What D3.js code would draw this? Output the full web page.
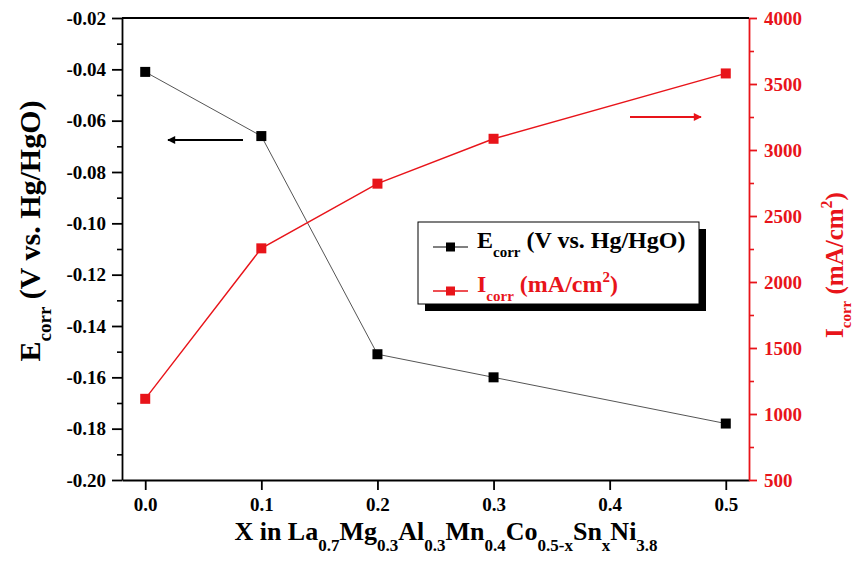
<!DOCTYPE html>
<html>
  <head>
    <title>Ecorr / Icorr</title>
    <script src="https://d3js.org/d3.v7.min.js"></script>
    <style>
      body { margin: 0; background: white; }
      text { font-family: "Liberation Serif", "Times New Roman", serif; font-weight: bold; }
    </style>
  </head>
  <body>
    <script>
      // values
      const xVals = [0.0, 0.1, 0.2, 0.3, 0.5];
      const eCorr = [-0.041, -0.066, -0.151, -0.160, -0.178];
      const iCorr = [1115, 2255, 2745, 3085, 3580];

      const xTicks = [0.0, 0.1, 0.2, 0.3, 0.4, 0.5];
      const eTicks = [-0.20, -0.18, -0.16, -0.14, -0.12, -0.10, -0.08, -0.06, -0.04, -0.02];
      const iTicks = [500, 1000, 1500, 2000, 2500, 3000, 3500, 4000];

      const width = 856, height = 564;
      const plotL = 122, plotR = 749, plotT = 18, plotB = 480;
      const red = "#e8141a";

      const svg = d3.select("body").append("svg")
        .attr("width", width).attr("height", height)
        .style("background", "white");

      const x = d3.scaleLinear().domain([-0.02, 0.52]).range([plotL, plotR]);
      const yE = d3.scaleLinear().domain([-0.20, -0.02]).range([plotB, plotT]);
      const yI = d3.scaleLinear().domain([500, 4000]).range([plotB, plotT]);

      // minor ticks first
      const eMinor = d3.range(-0.19, -0.02, 0.02);
      svg.append("g").attr("transform", `translate(${plotL},0)`)
        .call(d3.axisLeft(yE).tickValues(eMinor).tickSize(5).tickFormat(""))
        .call(g => g.select(".domain").remove())
        .selectAll("line").attr("stroke", "#000").attr("stroke-width", 1.6);

      const iMinor = d3.range(750, 4000, 500);
      svg.append("g").attr("transform", `translate(${plotR},0)`)
        .call(d3.axisRight(yI).tickValues(iMinor).tickSize(5).tickFormat(""))
        .call(g => g.select(".domain").remove())
        .selectAll("line").attr("stroke", red).attr("stroke-width", 1.6);

      // main axes
      const gx = svg.append("g").attr("transform", `translate(0,${plotB})`)
        .call(d3.axisBottom(x).tickValues(xTicks).tickSize(10).tickSizeOuter(0).tickPadding(4)
          .tickFormat(d3.format(".1f")));
      gx.selectAll("text").style("font-size", "19px").attr("fill", "#000").attr("dy", "0.9em");

      const gl = svg.append("g").attr("transform", `translate(${plotL},0)`)
        .call(d3.axisLeft(yE).tickValues(eTicks).tickSize(10).tickSizeOuter(0).tickPadding(6)
          .tickFormat(d => d3.format(".2f")(d).replace("−", "-")));
      gl.selectAll("text").style("font-size", "19px").attr("fill", "#000");

      const gr = svg.append("g").attr("transform", `translate(${plotR},0)`)
        .call(d3.axisRight(yI).tickValues(iTicks).tickSize(8).tickSizeOuter(0).tickPadding(7)
          .tickFormat(d3.format("d")));
      gr.selectAll("text").style("font-size", "19px").attr("fill", red);
      gr.selectAll("line").attr("stroke", red);
      gr.select(".domain").attr("stroke", red);

      [gx, gl].forEach(g => g.selectAll("line, .domain").attr("stroke", "#000"));
      [gx, gl, gr].forEach(g => g.selectAll("line, .domain").attr("stroke-width", 1.8));

      // top frame line
      svg.append("line").attr("x1", plotL).attr("x2", plotR).attr("y1", plotT).attr("y2", plotT)
        .attr("stroke", "#000").attr("stroke-width", 1.8);

      // series
      const ePts = xVals.map((v, i) => [x(v), yE(eCorr[i])]);
      const iPts = xVals.map((v, i) => [x(v), yI(iCorr[i])]);

      svg.append("path").attr("d", d3.line()(ePts))
        .attr("fill", "none").attr("stroke", "#555").attr("stroke-width", 1);
      svg.append("path").attr("d", d3.line()(iPts))
        .attr("fill", "none").attr("stroke", red).attr("stroke-width", 1.4);

      svg.selectAll("rect.e").data(ePts).enter().append("rect").attr("class", "e")
        .attr("x", d => d[0] - 5).attr("y", d => d[1] - 5)
        .attr("width", 10).attr("height", 10).attr("fill", "#000");
      svg.selectAll("rect.i").data(iPts).enter().append("rect").attr("class", "i")
        .attr("x", d => d[0] - 5).attr("y", d => d[1] - 5)
        .attr("width", 10).attr("height", 10).attr("fill", red);

      // arrows
      const defs = svg.append("defs");
      [["arrK", "#000"], ["arrR", red]].forEach(([id, c]) => {
        defs.append("marker").attr("id", id).attr("viewBox", "0 0 10 10")
          .attr("refX", 9).attr("refY", 5).attr("markerWidth", 12).attr("markerHeight", 8)
          .attr("markerUnits", "userSpaceOnUse").attr("orient", "auto")
          .append("path").attr("d", "M0,0 L10,5 L0,10 Z").attr("fill", c);
      });
      svg.append("line").attr("x1", 243).attr("x2", 168).attr("y1", 140).attr("y2", 140)
        .attr("stroke", "#000").attr("stroke-width", 1.8).attr("marker-end", "url(#arrK)");
      svg.append("line").attr("x1", 630).attr("x2", 701).attr("y1", 117).attr("y2", 117)
        .attr("stroke", red).attr("stroke-width", 1.8).attr("marker-end", "url(#arrR)");

      // legend
      const lg = svg.append("g");
      lg.append("rect").attr("x", 425).attr("y", 229).attr("width", 281).attr("height", 82).attr("fill", "#000");
      lg.append("rect").attr("x", 418).attr("y", 222).attr("width", 281).attr("height", 82)
        .attr("fill", "#fff").attr("stroke", "#000").attr("stroke-width", 1);
      const rows = [
        { y: 247, color: "#000", main: "E", sub: "corr", rest: " (V vs. Hg/HgO)", sup: "" },
        { y: 291, color: red, main: "I", sub: "corr", rest: " (mA/cm", sup: "2" }
      ];
      rows.forEach(r => {
        lg.append("line").attr("x1", 433).attr("x2", 468).attr("y1", r.y).attr("y2", r.y)
          .attr("stroke", r.color).attr("stroke-width", r.color === "#000" ? 1 : 1.4);
        lg.append("rect").attr("x", 446).attr("y", r.y - 4.5).attr("width", 9).attr("height", 9).attr("fill", r.color);
        const t = lg.append("text").attr("x", 477).attr("y", r.y + 1).attr("fill", r.color).style("font-size", "24px");
        t.append("tspan").text(r.main);
        t.append("tspan").text(r.sub).style("font-size", "15px").attr("dy", 9);
        t.append("tspan").text(r.rest).attr("dy", -9);
        if (r.sup) {
          t.append("tspan").text(r.sup).style("font-size", "15px").attr("dy", -10);
          t.append("tspan").text(")").attr("dy", 10);
        }
      });

      // x title
      const xt = svg.append("text").attr("x", 446).attr("y", 540).attr("text-anchor", "middle")
        .attr("fill", "#000").style("font-size", "26px");
      const xParts = [["X in La", "0.7"], ["Mg", "0.3"], ["Al", "0.3"], ["Mn", "0.4"], ["Co", "0.5-x"], ["Sn", "x"], ["Ni", "3.8"]];
      xParts.forEach(([m, s], i) => {
        xt.append("tspan").text(m).attr("dy", i === 0 ? 0 : -11);
        xt.append("tspan").text(s).style("font-size", "17px").attr("dy", 11);
      });

      // left title
      const lt = svg.append("text").attr("transform", `translate(40,${(plotT + plotB) / 2 - 18}) rotate(-90)`)
        .attr("text-anchor", "middle").attr("fill", "#000").style("font-size", "30px");
      lt.append("tspan").text("E");
      lt.append("tspan").text("corr").style("font-size", "19px").attr("dy", 11);
      lt.append("tspan").text(" (V vs. Hg/HgO)").attr("dy", -11);

      // right title
      const rt = svg.append("text").attr("transform", `translate(843,265) rotate(-90)`)
        .attr("text-anchor", "middle").attr("fill", red).style("font-size", "25px");
      rt.append("tspan").text("I");
      rt.append("tspan").text("corr").style("font-size", "15px").attr("dy", 8);
      rt.append("tspan").text(" (mA/cm").attr("dy", -8);
      rt.append("tspan").text("2").style("font-size", "16px").attr("dy", -11);
      rt.append("tspan").text(")").attr("dy", 11);
    </script>
  </body>
</html>
